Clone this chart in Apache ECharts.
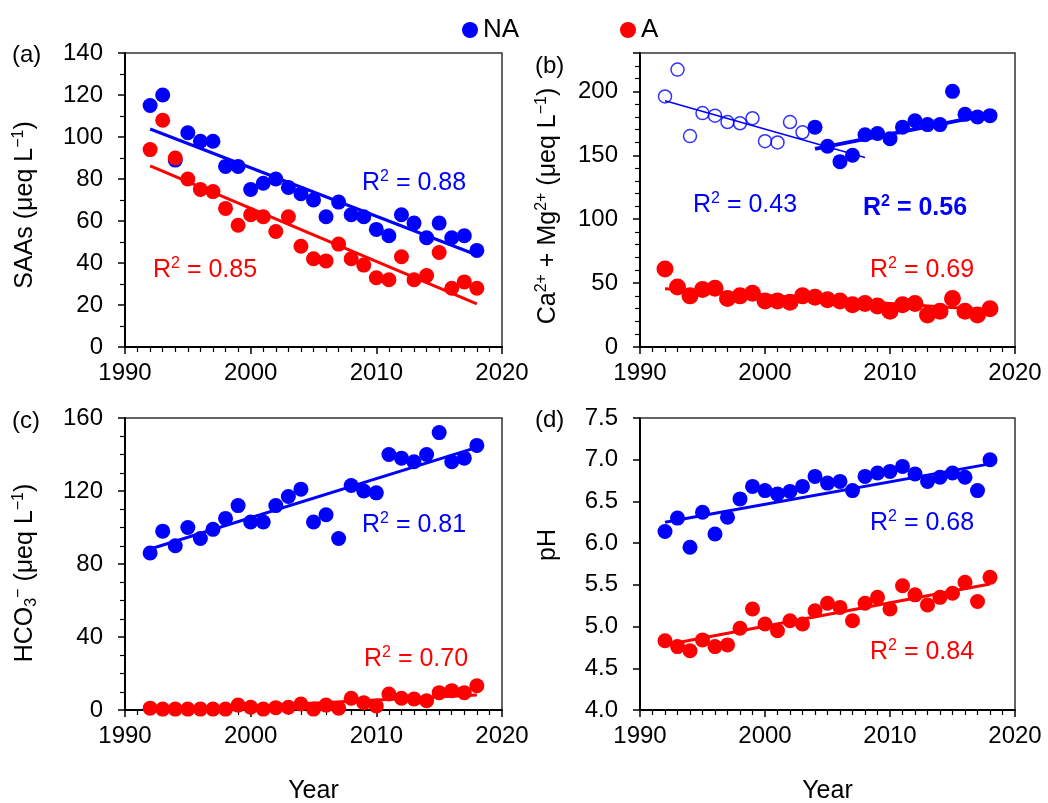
<!DOCTYPE html>
<html>
<head>
<meta charset="utf-8">
<title>Trends 1992-2018</title>
<script src="https://cdn.jsdelivr.net/npm/echarts@6/dist/echarts.min.js"></script>
<style>
  html, body { margin: 0; padding: 0; background: #fff; }
  #main { width: 1048px; height: 803px; }
</style>
</head>
<body>
<div id="main"></div>
<script>
// sampling years
var years = [1992, 1993, 1994, 1995, 1996, 1997, 1998, 1999, 2000, 2001, 2002, 2003, 2004, 2005,
  2006, 2007, 2008, 2009, 2010, 2011, 2012, 2013, 2014, 2015, 2016, 2017, 2018];

// (a) SAAs, ueq/L
var saasNA = [115, 120, 89, 102, 98, 98, 86, 86, 75, 78, 80, 76, 73, 70, 62, 69, 63, 62, 56, 53, 63, 59, 52, 59, 52, 53, 46];
var saasA = [94, 108, 90, 80, 75, 74, 66, 58, 63, 62, 55, 62, 48, 42, 41, 49, 42, 39, 33, 32, 43, 32, 34, 45, 28, 31, 28];
// (b) Ca2+ + Mg2+, ueq/L (NA hollow before 2004)
var caMgNA = [196, 217, 165, 183, 181, 176, 175, 179, 161, 160, 176, 168, 172, 157, 145, 150, 166, 167, 163, 172, 177, 174, 174, 200, 182, 180, 181];
var caMgA = [61, 47, 40, 45, 46, 38, 40, 42, 36, 36, 35, 40, 39, 37, 36, 33, 34, 32, 28, 33, 34, 25, 28, 38, 28, 25, 30];
var caMgBreakYear = 2004;
// (c) HCO3-, ueq/L
var hco3NA = [86, 98, 90, 100, 94, 99, 105, 112, 103, 103, 112, 117, 121, 103, 107, 94, 123, 120, 119, 140, 138, 136, 140, 152, 136, 138, 145];
var hco3A = [1, 0.5, 0.5, 0.5, 0.5, 0.5, 0.5, 2.7, 1.5, 0.5, 1.3, 1.5, 3.3, 0.5, 2.7, 1, 6.4, 4, 2.2, 8.8, 6.4, 6, 5.1, 9.5, 10.6, 9.5, 13.3];
// (d) pH
var phNA = [6.14, 6.30, 5.95, 6.37, 6.11, 6.31, 6.53, 6.68, 6.63, 6.59, 6.62, 6.68, 6.80, 6.72, 6.74, 6.63, 6.80, 6.84, 6.86, 6.92, 6.83, 6.74, 6.79, 6.84, 6.79, 6.63, 7.00];
var phA = [4.83, 4.76, 4.71, 4.84, 4.76, 4.78, 4.98, 5.21, 5.03, 4.95, 5.07, 5.03, 5.19, 5.28, 5.23, 5.07, 5.28, 5.35, 5.21, 5.49, 5.38, 5.26, 5.35, 5.40, 5.53, 5.30, 5.59];

// trend lines, [year, value] end points
var fitSaasNA = [[1992, 103.8], [2018, 43.8]];
var fitSaasA = [[1992, 86.2], [2018, 20.5]];
var fitCaMgNAearly = [[1992, 192.6], [2008, 148.2]];
var fitCaMgNAlate = [[2004, 155], [2018, 182]];
var fitCaMgA = [[1992, 45.5], [2018, 29]];
var fitHco3NA = [[1992, 88.2], [2018, 143.9]];
var fitHco3A = [[1992, -0.7], [2018, 8.2]];
var fitPhNA = [[1992, 6.25], [2018, 6.95]];
var fitPhA = [[1992, 4.78], [2018, 5.51]];

// R2 values
var r2SaasNA = '0.88', r2SaasA = '0.85';
var r2CaMgEarly = '0.43', r2CaMgLate = '0.56', r2CaMgA = '0.69';
var r2Hco3NA = '0.81', r2Hco3A = '0.70';
var r2PhNA = '0.68', r2PhA = '0.84';

var BLUE = '#0000ff', RED = '#ff0000';
var FONT = '"Liberation Sans", Arial, sans-serif';

function pairs(xs, ys) {
  return xs.map(function (x, i) { return [x, ys[i]]; });
}

var chart = echarts.init(document.getElementById('main'));

var gridBox = [
  { left: 125, top: 53, width: 377, height: 294 },
  { left: 640, top: 53, width: 375, height: 294 },
  { left: 125, top: 418, width: 377, height: 292 },
  { left: 640, top: 418, width: 375, height: 292 }
];

function xAxisFor(i) {
  return {
    type: 'value', gridIndex: i, min: 1990, max: 2020, interval: 10,
    axisLine: { onZero: false, lineStyle: { color: '#000', width: 2 } },
    axisTick: { length: 7, lineStyle: { color: '#000', width: 1.5 } },
    minorTick: { show: true, splitNumber: 10, length: 5, lineStyle: { color: '#000', width: 1.2 } },
    splitLine: { show: false },
    minorSplitLine: { show: false },
    axisLabel: {
      margin: 14, color: '#000', fontSize: 24, fontFamily: FONT,
      formatter: function (v) { return String(v); }
    },
    name: i >= 2 ? 'Year' : '',
    nameLocation: 'middle', nameGap: 69,
    nameTextStyle: { color: '#000', fontSize: 25, fontFamily: FONT }
  };
}

function yAxisFor(i, min, max, interval, minorSplit, digits, hideMax) {
  return {
    type: 'value', gridIndex: i, min: min, max: max, interval: interval,
    axisLine: { onZero: false, lineStyle: { color: '#000', width: 2 } },
    axisTick: { length: 7, lineStyle: { color: '#000', width: 1.5 } },
    minorTick: { show: minorSplit > 1, splitNumber: minorSplit, length: 5, lineStyle: { color: '#000', width: 1.2 } },
    splitLine: { show: false },
    minorSplitLine: { show: false },
    axisLabel: {
      margin: 22, color: '#000', fontSize: 24, fontFamily: FONT,
      showMaxLabel: !hideMax,
      formatter: function (v) {
        if (hideMax && v === max) return '';
        return digits ? v.toFixed(digits) : String(v);
      }
    }
  };
}

function dots(name, i, data, color, size) {
  return {
    name: name, type: 'scatter', xAxisIndex: i, yAxisIndex: i,
    data: data, symbol: 'circle', symbolSize: size || 15,
    itemStyle: { color: color, opacity: 1 }, z: 2, silent: true
  };
}

function fit(i, data, color, width) {
  return {
    name: 'fit', type: 'line', xAxisIndex: i, yAxisIndex: i,
    data: data, symbol: 'none', clip: true, silent: true,
    lineStyle: { color: color, width: width || 3 }, z: 3
  };
}

var caYearsEarly = years.filter(function (y) { return y < caMgBreakYear; });
var caYearsLate = years.filter(function (y) { return y >= caMgBreakYear; });
var caEarly = pairs(caYearsEarly, caMgNA.slice(0, caYearsEarly.length));
var caLate = pairs(caYearsLate, caMgNA.slice(caYearsEarly.length));

// rich styles for super/subscripts
function richSet(size, color, weight) {
  return {
    n: { fontSize: size, fontFamily: FONT, fill: color, fontWeight: weight || 'normal', lineHeight: size + 4 },
    s: { fontSize: Math.round(size * 0.62), fontFamily: FONT, fill: color, fontWeight: weight || 'normal', verticalAlign: 'top' },
    b: { fontSize: Math.round(size * 0.62), fontFamily: FONT, fill: color, fontWeight: weight || 'normal', verticalAlign: 'bottom' }
  };
}

function r2Text(x, y, value, color, weight) {
  return {
    type: 'text', x: x, y: y, silent: true, z: 10,
    style: {
      text: '{n|R}{s|2}{n| = ' + value + '}',
      rich: richSet(25, color, weight),
      fill: color, align: 'left', verticalAlign: 'middle'
    }
  };
}

function plainText(x, y, text) {
  return {
    type: 'text', x: x, y: y, silent: true,
    style: { text: text, fill: '#000', fontSize: 24, fontFamily: FONT, align: 'left', verticalAlign: 'middle' }
  };
}

function vTitle(x, y, text) {
  return {
    type: 'text', x: x, y: y, rotation: Math.PI / 2, silent: true,
    style: { text: text, rich: richSet(25, '#000'), fill: '#000', align: 'center', verticalAlign: 'middle' }
  };
}

chart.setOption({
  backgroundColor: '#fff',
  animation: false,
  legend: [
    {
      data: ['NA'], left: 457, top: 12, icon: 'circle', itemWidth: 16, itemHeight: 16,
      selectedMode: false, textStyle: { color: '#000', fontSize: 26, fontFamily: FONT }
    },
    {
      data: ['A'], left: 615, top: 12, icon: 'circle', itemWidth: 16, itemHeight: 16,
      selectedMode: false, textStyle: { color: '#000', fontSize: 26, fontFamily: FONT }
    }
  ],
  grid: gridBox.map(function (g) {
    return {
      left: g.left, top: g.top, width: g.width, height: g.height,
      show: true, borderColor: '#333', borderWidth: 1.5,
      containLabel: false, outerBoundsMode: 'none'
    };
  }),
  xAxis: [xAxisFor(0), xAxisFor(1), xAxisFor(2), xAxisFor(3)],
  yAxis: [
    yAxisFor(0, 0, 140, 20, 2, 0, false),
    yAxisFor(1, 0, 230, 50, 5, 0, true),
    yAxisFor(2, 0, 160, 40, 4, 0, false),
    yAxisFor(3, 4, 7.5, 0.5, 1, 1, false)
  ],
  series: [
    // (a)
    dots('NA', 0, pairs(years, saasNA), BLUE),
    dots('A', 0, pairs(years, saasA), RED),
    fit(0, fitSaasNA, BLUE),
    fit(0, fitSaasA, RED),
    // (b)
    {
      name: 'NA', type: 'scatter', xAxisIndex: 1, yAxisIndex: 1, data: caEarly,
      symbol: 'circle', symbolSize: 13, silent: true, z: 2,
      itemStyle: { color: 'rgba(255,255,255,0)', borderColor: BLUE, borderWidth: 1.5 }
    },
    dots('NA', 1, caLate, BLUE, 15),
    dots('A', 1, pairs(years, caMgA), RED, 17),
    fit(1, fitCaMgNAearly, BLUE, 1.5),
    fit(1, fitCaMgNAlate, BLUE, 4),
    fit(1, fitCaMgA, RED),
    // (c)
    dots('NA', 2, pairs(years, hco3NA), BLUE),
    dots('A', 2, pairs(years, hco3A), RED),
    fit(2, fitHco3NA, BLUE),
    fit(2, fitHco3A, RED),
    // (d)
    dots('NA', 3, pairs(years, phNA), BLUE),
    dots('A', 3, pairs(years, phA), RED),
    fit(3, fitPhNA, BLUE),
    fit(3, fitPhA, RED)
  ],
  graphic: [
    plainText(12, 55, '(a)'),
    plainText(535, 66, '(b)'),
    plainText(12, 421, '(c)'),
    plainText(535, 420, '(d)'),
    vTitle(25, 205, '{n|SAAs (μeq L}{s|−1}{n|)}'),
    vTitle(548, 206, '{n|Ca}{s|2+}{n| + Mg}{s|2+}{n| (μeq L}{s|−1}{n|)}'),
    vTitle(25, 573, '{n|HCO}{b|3}{s|−}{n| (μeq L}{s|−1}{n|)}'),
    vTitle(548, 545, '{n|pH}'),
    r2Text(362, 183, r2SaasNA, BLUE),
    r2Text(153, 270, r2SaasA, RED),
    r2Text(693, 205, r2CaMgEarly, BLUE),
    r2Text(863, 208, r2CaMgLate, BLUE, 'bold'),
    r2Text(870, 270, r2CaMgA, RED),
    r2Text(362, 525, r2Hco3NA, BLUE),
    r2Text(364, 659, r2Hco3A, RED),
    r2Text(870, 523, r2PhNA, BLUE),
    r2Text(870, 652, r2PhA, RED)
  ]
});
</script>
</body>
</html>
